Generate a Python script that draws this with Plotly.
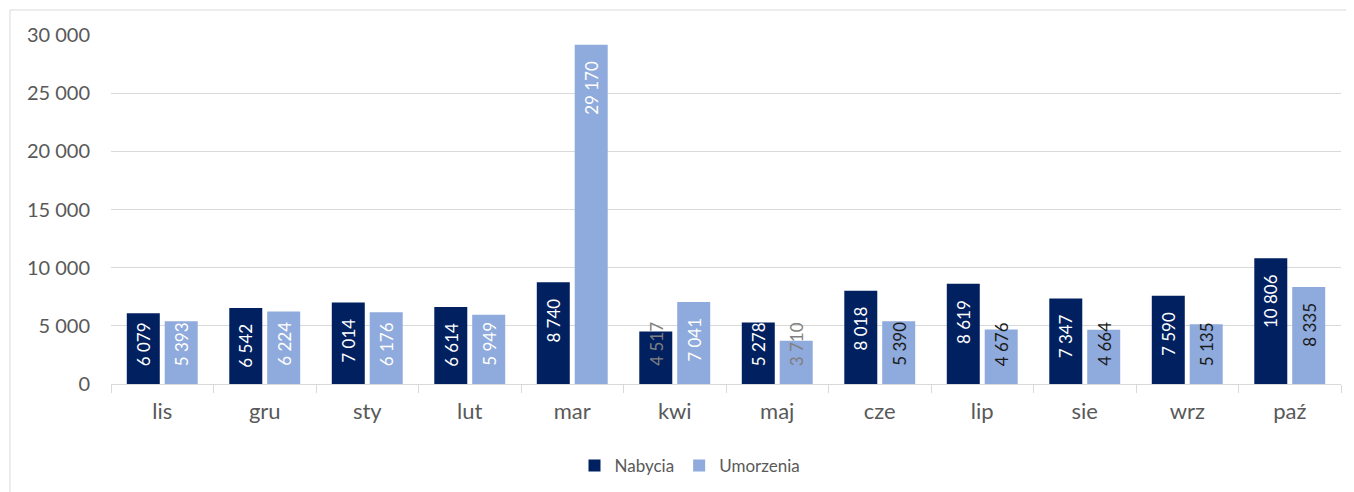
import plotly.graph_objects as go

months = ["lis", "gru", "sty", "lut", "mar", "kwi", "maj", "cze", "lip", "sie", "wrz", "paź"]
nabycia = [6079, 6542, 7014, 6614, 8740, 4517, 5278, 8018, 8619, 7347, 7590, 10806]
umorzenia = [5393, 6224, 6176, 5949, 29170, 7041, 3710, 5390, 4676, 4664, 5135, 8335]
y_ticks = [0, 5000, 10000, 15000, 20000, 25000, 30000]

WHITE, GRAY, BLACK = "#ffffff", "#808080", "#1a1a1a"
nab_label_colors = [WHITE] * 5 + [GRAY] + [WHITE] * 6
umo_label_colors = [WHITE] * 6 + [GRAY] + [BLACK] * 5

FONT = "Lato"
OFF = 8  # page body margin
W, H = 1354 - OFF, 492 - OFF
ML, MR, MT, MB = 111 - OFF, 13, 35 - OFF, 108
pw, ph = W - ML - MR, H - MT - MB
YMAX = 30000

fig = go.Figure()
fig.add_trace(go.Bar(name="Nabycia", x=months, y=nabycia, marker_color="#002060",
                     marker_line_width=0))
fig.add_trace(go.Bar(name="Umorzenia", x=months, y=umorzenia, marker_color="#8faadc",
                     marker_line_width=0))

cat_w = pw / len(months)
bargap, bargroupgap = 0.26, 0.13
slot = cat_w * (1 - bargap) / 2
PAD_TOP, PAD_BASE, CHAR_PX = 14, 16, 8.7
annotations = []
for vals, colors, sign in ((nabycia, nab_label_colors, -1), (umorzenia, umo_label_colors, 1)):
    for m, v, c in zip(months, vals, colors):
        txt = f"{v:,}".replace(",", " ")
        bar_px = v / YMAX * ph
        fits = bar_px >= len(txt) * CHAR_PX + PAD_TOP + PAD_BASE
        if fits:
            pos = dict(y=v, yanchor="top", yshift=-PAD_TOP)
        else:
            pos = dict(y=0, yanchor="bottom", yshift=PAD_BASE)
        annotations.append(dict(
            x=m, xref="x", yref="y", text=txt,
            showarrow=False, textangle=-90, xanchor="center",
            xshift=sign * slot / 2,
            font=dict(family=FONT, size=17, color=c), **pos))

bx0 = (10 - OFF - ML) / pw
bx1 = (1360 - OFF - ML) / pw
by_top = (H - MB - (10 - OFF)) / ph
by_bot = (H - MB - (500 - OFF)) / ph
border = dict(color="#d9d9d9", width=1)

fig.update_layout(
    width=W, height=H,
    margin=dict(l=ML, r=MR, t=MT, b=MB, autoexpand=False),
    paper_bgcolor="white", plot_bgcolor="white",
    barmode="group", bargap=bargap, bargroupgap=bargroupgap,
    separators=", ",
    font=dict(family=FONT, color="#595959"),
    annotations=annotations,
    legend=dict(orientation="h", xref="container", yref="container",
                x=(690 - OFF) / W, xanchor="center", y=1 - (466 - OFF) / H, yanchor="middle",
                font=dict(family=FONT, size=17, color="#595959"),
                itemwidth=30, traceorder="normal"),
    shapes=[
        dict(type="line", xref="paper", yref="paper", x0=bx0, x1=bx1, y0=by_top, y1=by_top,
             line=border, layer="below"),
        dict(type="line", xref="paper", yref="paper", x0=bx0, x1=bx0, y0=by_bot, y1=by_top,
             line=border, layer="below"),
    ],
)
fig.update_xaxes(showgrid=False, showline=True, linecolor="#d9d9d9", linewidth=1,
                 ticks="outside", tickson="boundaries", ticklen=8, tickcolor="#d9d9d9",
                 tickfont=dict(family=FONT, size=22, color="#595959"),
                 ticklabelstandoff=8, automargin=False)
fig.update_yaxes(range=[0, YMAX], tickvals=y_ticks, tickformat=",d",
                 showgrid=True, gridcolor="#d9d9d9", gridwidth=1, zeroline=False,
                 tickfont=dict(family=FONT, size=20, color="#595959"),
                 ticklabelstandoff=20, automargin=False)

fig.write_html("out.html")
